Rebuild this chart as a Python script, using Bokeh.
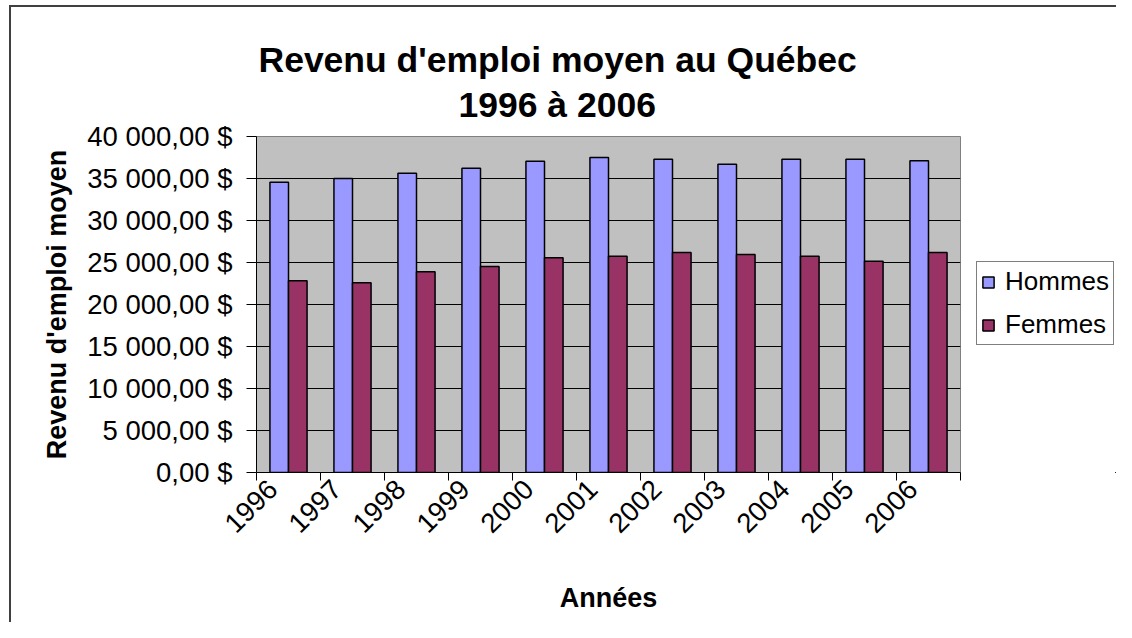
import math
from bokeh.plotting import figure
from bokeh.layouts import row
from bokeh.models import (ColumnDataSource, FixedTicker, Title, Legend, LegendItem, Range1d)
from bokeh.transform import dodge
from bokeh.embed import file_html
from bokeh.resources import INLINE

# ---- data ----
years = ["1996", "1997", "1998", "1999", "2000", "2001", "2002", "2003", "2004", "2005", "2006"]
hommes = [34560, 35000, 35630, 36230, 37060, 37500, 37300, 36700, 37300, 37300, 37100]
femmes = [22820, 22580, 23890, 24520, 25560, 25750, 26190, 25950, 25750, 25160, 26190]
y_ticks = [0, 5000, 10000, 15000, 20000, 25000, 30000, 35000, 40000]
y_tick_labels = ["0,00 $", "5 000,00 $", "10 000,00 $", "15 000,00 $", "20 000,00 $",
                 "25 000,00 $", "30 000,00 $", "35 000,00 $", "40 000,00 $"]
series_names = ["Hommes", "Femmes"]
colors = ["#9999FF", "#993366"]

FONT = "Liberation Sans"
H = 622

n = len(years)
centers = [i + 0.5 for i in range(n)]
bounds = [float(i) for i in range(n + 1)]
label_pos = [i + 0.25 for i in range(n)]   # rotated labels end left of the category centre

src = ColumnDataSource(dict(x=centers, hommes=hommes, femmes=femmes))

p = figure(width=961, height=H, output_backend="svg", toolbar_location=None,
           x_range=Range1d(0, n), y_range=Range1d(0, 40000),
           min_border_left=256, min_border_right=1, min_border_top=136, min_border_bottom=150)
p.title = None
p.border_fill_color = None

# frame
p.background_fill_color = "#C0C0C0"
p.outline_line_color = "#808080"
p.outline_line_width = 1

bw = 0.29
r1 = p.vbar(x=dodge("x", -bw / 2), top="hommes", width=bw, source=src,
            fill_color=colors[0], line_color="black", line_width=1.5)
r2 = p.vbar(x=dodge("x", bw / 2), top="femmes", width=bw, source=src,
            fill_color=colors[1], line_color="black", line_width=1.5)

# grid
p.xgrid.grid_line_color = None
p.ygrid.grid_line_color = "black"
p.ygrid.grid_line_width = 1
p.ygrid.ticker = FixedTicker(ticks=y_ticks)

# y axis
ya = p.yaxis[0]
ya.ticker = FixedTicker(ticks=y_ticks, minor_ticks=[])
ya.major_label_overrides = {t: l for t, l in zip(y_ticks, y_tick_labels)}
ya.major_label_text_font = FONT
ya.major_label_text_font_size = "27.5px"
ya.major_label_text_color = "black"
ya.major_tick_out = 10
ya.major_tick_in = 0
ya.major_tick_line_color = "black"
ya.minor_tick_line_color = None
ya.axis_line_color = "black"
ya.major_label_standoff = 14
ya.axis_label = "Revenu d'emploi moyen"
ya.axis_label_text_font = FONT
ya.axis_label_text_font_size = "27px"
ya.axis_label_text_font_style = "bold"
ya.axis_label_text_color = "black"
ya.axis_label_standoff = 12

# x axis: labels from major ticks (hidden marks), tick marks at category boundaries
xa = p.xaxis[0]
xa.ticker = FixedTicker(ticks=label_pos, minor_ticks=bounds)
xa.major_label_overrides = {c: y for c, y in zip(label_pos, years)}
xa.major_label_orientation = math.pi / 4
xa.major_label_text_font = FONT
xa.major_label_text_font_size = "27.5px"
xa.major_label_text_color = "black"
xa.major_tick_line_color = None
xa.major_tick_out = 8
xa.major_tick_in = 0
xa.minor_tick_line_color = "black"
xa.minor_tick_out = 8
xa.minor_tick_in = 0
xa.axis_line_color = "black"
xa.major_label_standoff = 4
xa.axis_label = "Années"
xa.axis_label_text_font = FONT
xa.axis_label_text_font_size = "27px"
xa.axis_label_text_font_style = "bold"
xa.axis_label_text_color = "black"
xa.axis_label_standoff = 39

# titles (lower line first: panels stack outward)
t2 = Title(text="1996 à 2006", align="left", offset=202, vertical_align="top",
           text_font=FONT, text_font_size="35.5px", text_font_style="bold",
           text_color="black", standoff=20)
t1 = Title(text="Revenu d'emploi moyen au Québec", align="left", offset=2,
           vertical_align="bottom", text_font=FONT, text_font_size="35.5px",
           text_font_style="bold", text_color="black", standoff=-10)
p.add_layout(t2, "above")
p.add_layout(t1, "above")

# legend figure to the right of the chart (proxy bars lie entirely outside its view)
q = figure(width=1116 - 961, height=H, output_backend="svg", toolbar_location=None,
           x_range=Range1d(-30, -20), y_range=Range1d(80000, 90000),
           x_axis_location=None, y_axis_location=None,
           min_border_left=0, min_border_right=0, min_border_top=0, min_border_bottom=0)
q.title = None
q.outline_line_color = None
q.background_fill_color = None
q.border_fill_color = None
q.grid.visible = False
g1 = q.vbar(x="x", top="hommes", width=bw, source=src,
            fill_color=colors[0], line_color="black", line_width=1.5)
g2 = q.vbar(x="x", top="femmes", width=bw, source=src,
            fill_color=colors[1], line_color="black", line_width=1.5)

legend = Legend(items=[LegendItem(label=series_names[0], renderers=[g1]),
                       LegendItem(label=series_names[1], renderers=[g2])],
                location=(15, 127), orientation="vertical",
                label_text_font=FONT, label_text_font_size="26px", label_text_color="black",
                glyph_width=14, glyph_height=14, label_standoff=10, padding=4, spacing=12,
                border_line_color="black", border_line_width=1, background_fill_color="white",
                background_fill_alpha=1.0, margin=0)
q.add_layout(legend, "center")

layout = row(p, q, spacing=0)
layout.styles = {
    "background-color": "white",
    "background-image": "linear-gradient(#404040, #404040), linear-gradient(#404040, #404040)",
    "background-size": "2000px 2px, 2px 2000px",
    "background-position": "9px 5px, 9px 5px",
    "background-repeat": "no-repeat",
}

open("out.html", "w").write(file_html(layout, INLINE))
